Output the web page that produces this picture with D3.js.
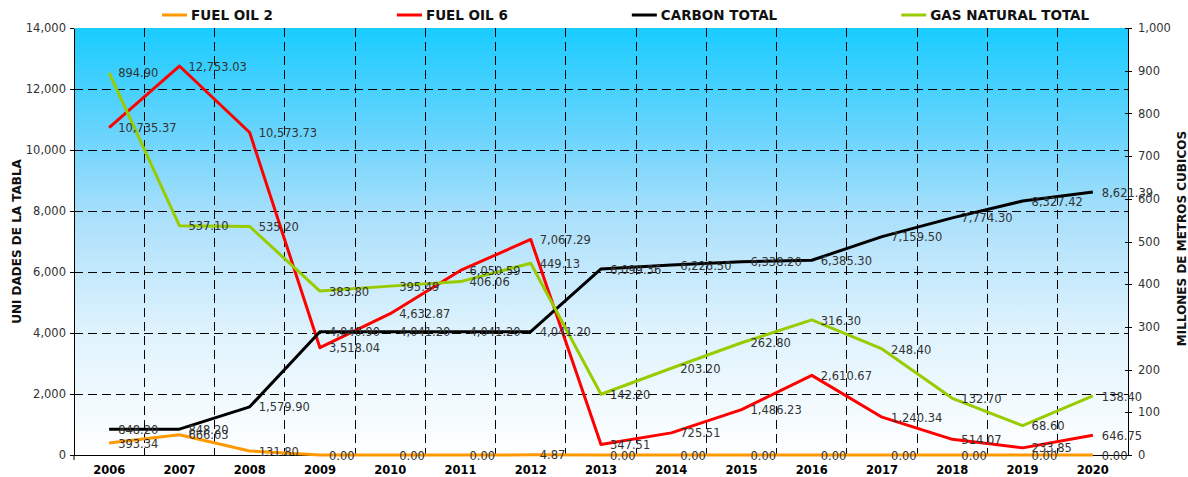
<!DOCTYPE html>
<meta charset="utf-8">
<head>
  <script src="https://cdn.jsdelivr.net/npm/d3@7"></script>
  <style>
    body { margin: 0; background: #fff; }
    .axis text { font: 11.5px "DejaVu Sans", Verdana, sans-serif; fill: #333; }
    .axis path, .axis line { fill: none; stroke: #000; shape-rendering: crispEdges; }
    .grid line { stroke: #000; stroke-dasharray: 9,5; shape-rendering: crispEdges; }
    .etiqueta { font: 11.5px "DejaVu Sans", Verdana, sans-serif; fill: #333; }
    .leyenda text { font: bold 13.5px "DejaVu Sans", Verdana, sans-serif; fill: #111; }
    .titulo { font: bold 12px "DejaVu Sans", Verdana, sans-serif; fill: #111; }
  </style>
</head>
<body>
<script type="text/javascript">

// Datos
var anios = ["2006","2007","2008","2009","2010","2011","2012","2013","2014","2015","2016","2017","2018","2019","2020"];
var fuelOil2 = [393.34, 666.03, 131.80, 0, 0, 0, 4.87, 0, 0, 0, 0, 0, 0, 0, 0];
var fuelOil6 = [10735.37, 12753.03, 10573.73, 3518.04, 4632.87, 6050.59, 7067.29, 347.51, 725.51, 1486.23, 2610.67, 1240.34, 514.07, 233.85, 646.75];
var carbonTotal = [848.20, 848.20, 1579.90, 4040.90, 4041.20, 4041.20, 4041.20, 6099.36, 6226.50, 6338.20, 6385.30, 7159.50, 7774.30, 8327.42, 8621.39];
var gasNatural = [894.90, 537.10, 535.20, 383.80, 395.49, 406.06, 449.13, 142.20, 203.20, 262.80, 316.30, 248.40, 132.70, 68.60, 138.40];
var ticksIzq = [0, 2000, 4000, 6000, 8000, 10000, 12000, 14000];
var ticksDer = [0, 100, 200, 300, 400, 500, 600, 700, 800, 900, 1000];
var nombres = ["FUEL OIL 2", "FUEL OIL 6", "CARBON TOTAL", "GAS NATURAL TOTAL"];

var series = [
  {nombre: nombres[0], valores: fuelOil2, color: "#ff9900", eje: "izq"},
  {nombre: nombres[1], valores: fuelOil6, color: "#ff0000", eje: "izq"},
  {nombre: nombres[2], valores: carbonTotal, color: "#000000", eje: "izq"},
  {nombre: nombres[3], valores: gasNatural, color: "#99cc00", eje: "der"}
];

// Margenes
var W = 1188, H = 477;
var margin = {top: 28, right: 60, bottom: 22, left: 74};
var x0 = margin.left, x1 = W - margin.right, y0 = H - margin.bottom, y1 = margin.top;

var svg = d3.select("body").append("svg").attr("width", W).attr("height", H);

var xScale = d3.scaleBand().domain(anios).range([x0, x1]);
var yIzq = d3.scaleLinear().domain([0, 14000]).range([y0, y1]);
var yDer = d3.scaleLinear().domain([0, 1000]).range([y0, y1]);
var fmt = d3.format(",.2f");

// Fondo degradado
var grad = svg.append("defs").append("linearGradient")
  .attr("id", "fondo").attr("x1", 0).attr("y1", 0).attr("x2", 0).attr("y2", 1);
grad.append("stop").attr("offset", "0%").attr("stop-color", "#19ccff");
grad.append("stop").attr("offset", "25%").attr("stop-color", "#6ad4fc");
grad.append("stop").attr("offset", "45%").attr("stop-color", "#ace0fb");
grad.append("stop").attr("offset", "70%").attr("stop-color", "#ddf2fd");
grad.append("stop").attr("offset", "100%").attr("stop-color", "#ffffff");

svg.append("rect")
  .attr("x", x0).attr("y", y1)
  .attr("width", x1 - x0).attr("height", y0 - y1)
  .attr("fill", "url(#fondo)");

// Rejilla
var grid = svg.append("g").attr("class", "grid");
grid.selectAll(".gh")
  .data(ticksIzq.slice(1, -1))
  .enter().append("line")
  .attr("x1", x0).attr("x2", x1)
  .attr("y1", function(d){ return yIzq(d); })
  .attr("y2", function(d){ return yIzq(d); });
grid.selectAll(".gv")
  .data(anios.slice(1))
  .enter().append("line")
  .attr("y1", y1).attr("y2", y0)
  .attr("x1", function(d){ return xScale(d); })
  .attr("x2", function(d){ return xScale(d); });

// Ejes
svg.append("g").attr("class", "axis")
  .attr("transform", "translate(" + x0 + ",0)")
  .call(d3.axisLeft(yIzq).tickValues(ticksIzq).tickFormat(d3.format(",")).tickSize(4).tickSizeOuter(0).tickPadding(4));

var ejeDer = svg.append("g").attr("class", "axis")
  .attr("transform", "translate(" + x1 + ",0)")
  .call(d3.axisRight(yDer).tickValues(ticksDer).tickFormat(d3.format(",")).tickSize(4).tickSizeOuter(0).tickPadding(6));
ejeDer.selectAll(".tick line").attr("x1", -3);

var ejeX = svg.append("g").attr("class", "axis")
  .attr("transform", "translate(0," + y0 + ")")
  .call(d3.axisBottom(xScale).tickSize(0).tickSizeOuter(0).tickPadding(11));
ejeX.selectAll("text").style("font-weight", "bold").style("fill", "#000");

svg.append("line")
  .attr("x1", x0).attr("x2", x0).attr("y1", y0).attr("y2", y0 + 5)
  .attr("stroke", "#000");

// Lineas
var cx = function(i){ return xScale(anios[i]) + xScale.bandwidth() / 2; };

series.forEach(function(s){
  var ys = s.eje == "izq" ? yIzq : yDer;
  var linea = d3.line()
    .x(function(d, i){ return cx(i); })
    .y(function(d){ return ys(d); });
  svg.append("path")
    .datum(s.valores)
    .attr("d", linea)
    .attr("fill", "none")
    .attr("stroke", s.color)
    .attr("stroke-width", 3)
    .attr("stroke-linejoin", "round");
});

// Etiquetas de valores
series.forEach(function(s){
  var ys = s.eje == "izq" ? yIzq : yDer;
  svg.append("g").selectAll("text")
    .data(s.valores)
    .enter().append("text")
    .attr("class", "etiqueta")
    .attr("x", function(d, i){ return cx(i) + 9; })
    .attr("y", function(d){ return ys(d); })
    .attr("dy", "0.4em")
    .text(function(d){ return fmt(d); });
});

// Titulos de ejes
svg.append("text").attr("class", "titulo")
  .attr("transform", "translate(21," + ((y0 + y1) / 2) + ") rotate(-90)")
  .attr("text-anchor", "middle")
  .text("UNI DADES DE LA TABLA");

svg.append("text").attr("class", "titulo")
  .attr("transform", "translate(1186," + ((y0 + y1) / 2 - 3) + ") rotate(-90)")
  .attr("text-anchor", "middle")
  .text("MILLONES DE METROS CUBICOS");

// Leyenda
var ley = svg.append("g").attr("class", "leyenda");
var posX = 162;
series.forEach(function(s){
  ley.append("line")
    .attr("x1", posX).attr("x2", posX + 25)
    .attr("y1", 15).attr("y2", 15)
    .attr("stroke", s.color).attr("stroke-width", 3);
  var t = ley.append("text")
    .attr("x", posX + 29).attr("y", 20)
    .text(s.nombre);
  posX += 29 + t.node().getComputedTextLength() + 124;
});

</script>
</body>
